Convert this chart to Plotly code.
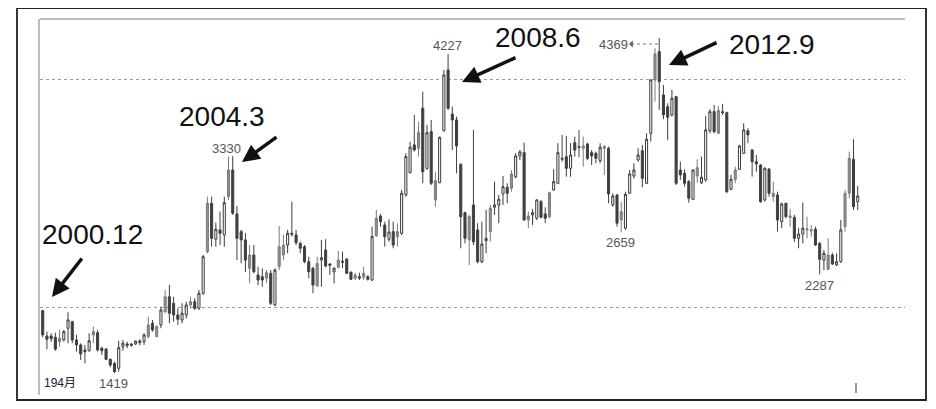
import plotly.graph_objects as go

# ---- data: 194 monthly candles, starting 2000.12 ----
opens = [1968,1745,1745,1733,1695,1710,1813,1871,1710,1666,
         1622,1615,1754,1774,1637,1630,1539,1504,1460,1650,
         1660,1662,1674,1686,1695,1739,1857,1739,1842,1959,
         2091,2033,1930,1886,1930,2018,2047,1989,2121,2487,
         2914,2597,2679,2635,2972,3207,2820,2664,2591,2341,
         2458,2282,2267,2253,2297,2018,2355,2458,2546,2649,
         2635,2561,2531,2399,2341,2185,2414,2502,2379,2311,
         2350,2403,2423,2308,2253,2253,2262,2267,2238,2626,
         2802,2723,2597,2664,2620,2649,2987,3183,3428,3398,
         3751,3222,3545,2943,3095,3553,4088,3700,3648,3257,
         2831,2591,2899,2679,2399,2584,2664,2879,2899,2996,
         3055,3046,3148,3331,3360,2767,2811,2782,2928,2820,
         2796,3031,3090,3310,3324,3222,3448,3413,3398,3436,
         3360,3354,3289,3398,3398,2899,2987,2767,2694,3002,
         3154,3295,3377,3090,3530,4000,4250,3868,3765,3692,
         3853,3207,3178,3104,2949,3154,3095,3119,3553,3721,
         3530,3721,3712,3037,3125,3213,3354,3553,3383,3280,
         3251,2943,3216,2972,2987,2752,2914,2790,2790,2605,
         2643,2679,2670,2685,2561,2414,2332,2458,2370,2399,
         2708,3002,3301,2928]
highs = [1975,1783,1769,1774,1798,1798,1954,1880,1754,1681,
         1666,1769,1827,1798,1651,1637,1548,1518,1703,1710,
         1695,1681,1705,1716,1769,1915,1886,1842,2003,2150,
         2194,2091,1989,2033,2047,2091,2077,2150,2458,2972,
         2972,2743,2840,2972,3325,3330,2890,2679,2652,2546,
         2546,2355,2341,2326,2326,2341,2714,2635,2679,2928,
         2679,2575,2546,2443,2355,2443,2591,2597,2385,2350,
         2496,2487,2429,2311,2302,2302,2355,2282,2708,2855,
         2820,2752,2773,2752,2738,3031,3354,3457,3692,3633,
         3897,3604,3648,3192,3501,4088,4227,3765,3677,3265,
         2840,2811,3560,2738,2752,2855,2899,3104,2987,3154,
         3090,3207,3354,3383,3448,2840,2861,2949,2943,2878,
         3016,3213,3443,3516,3507,3443,3501,3560,3501,3448,
         3383,3369,3443,3428,3413,3002,2996,2928,3016,3207,
         3266,3398,3428,3530,4006,4279,4369,3956,3795,3912,
         3860,3280,3213,3119,3213,3301,3325,3683,3742,3780,
         3771,3789,3721,3163,3236,3428,3618,3575,3389,3339,
         3260,3231,3222,3104,3016,2919,2919,2861,2811,2694,
         2919,2796,2723,2708,2573,2502,2605,2478,2473,2767,
         3031,3369,3478,3066]
lows = [1733,1628,1692,1615,1650,1695,1681,1681,1607,1533,
        1504,1607,1681,1607,1577,1533,1469,1419,1430,1615,
        1637,1651,1666,1662,1666,1725,1783,1733,1813,1945,
        1857,1871,1842,1857,1900,1989,1974,1974,2106,2473,
        2531,2531,2546,2531,2943,2811,2414,2385,2308,2209,
        2297,2194,2179,2209,2018,2010,2326,2414,2473,2620,
        2546,2473,2385,2253,2121,2179,2179,2350,2282,2209,
        2341,2341,2291,2238,2238,2238,2238,2232,2230,2620,
        2708,2531,2575,2517,2531,2635,2972,3178,3369,3325,
        3090,3207,3075,2884,3090,3545,3736,3383,3178,2517,
        2561,2370,2546,2385,2385,2473,2575,2811,2738,2899,
        2914,3016,3134,3295,2760,2694,2723,2767,2782,2738,
        2782,3025,3084,3280,3148,3148,3325,3319,3236,3295,
        3251,3266,3266,3163,2914,2884,2708,2659,2679,2996,
        3134,3280,3055,3084,3457,3809,3736,3654,3472,3677,
        3075,3119,3060,2919,2943,3095,3084,3104,3530,3530,
        3524,3692,3002,3031,3090,3207,3348,3443,3148,3192,
        2919,2928,2972,2928,2664,2694,2782,2708,2575,2517,
        2561,2605,2620,2538,2287,2326,2326,2370,2361,2390,
        2664,2958,2855,2855]
closes = [1754,1716,1721,1628,1725,1783,1886,1710,1666,1586,
          1607,1703,1783,1622,1615,1539,1489,1430,1642,1681,
          1674,1674,1700,1700,1754,1842,1798,1827,1974,2091,
          1945,1930,1892,1945,2018,2047,1989,2121,2443,2914,
          2605,2685,2649,2919,3207,2826,2605,2591,2414,2458,
          2311,2238,2238,2302,2033,2326,2531,2546,2649,2641,
          2567,2517,2399,2311,2194,2385,2434,2361,2368,2341,
          2414,2394,2297,2244,2282,2267,2297,2244,2620,2782,
          2752,2620,2661,2546,2664,3002,3325,3407,3383,3536,
          3192,3536,3090,3113,3495,4044,3751,3648,3419,2796,
          2605,2796,2575,2399,2555,2605,2870,2899,2949,3060,
          3002,3172,3331,3366,2767,2802,2831,2943,2790,2782,
          3007,3104,3360,3302,3222,3339,3383,3407,3419,3310,
          3331,3310,3407,3413,2996,2978,2738,2840,2993,3172,
          3207,3339,3134,3478,4000,4229,3985,3692,3671,3839,
          3090,3163,3090,2958,3207,3227,3143,3560,3721,3545,
          3730,3712,3016,3125,3207,3419,3560,3516,3280,3260,
          2928,3222,3002,3002,2767,2908,2796,2802,2605,2643,
          2694,2688,2679,2546,2420,2473,2458,2379,2399,2679,
          3002,3310,2884,2978]
# body shade of each candle: W = hollow, D = dark, G = grey
shade = list("DDDDGWWDDD" "DWGDDDDDWW" "WWWWWGDGWG" "DDDWWGDWWG" "DWDWGDDDDG"
             "DDDGDWGGWD" "DDDDDGWDDW" "GDDDGWGDWG" "DDWDGWWWDG" "DWDGWWDDDD"
             "DGDDWWGWWW" "DGWWDGWWDD" "GWWDDWDDGD" "DDWGDWDGWW" "WWDWWGDDDW"
             "DDDDWGWWWD" "GDDWGWWDDD" "DWDGDWDGDW" "WGGDDWGDWW" "GGDW")
months = list(range(len(opens)))

peak_labels = [("4227", 447), ("3330", 226), ("1419", 113), ("2659", 620), ("2287", 819)]
period_labels = ["2000.12", "2004.3", "2008.6", "2012.9"]
count_label = "194月"

# ---- geometry: page pixels (the page body has an 8px margin) ----
OFF = 8
FW, FH = 920, 393
L, R, T, B = 40, 905, 19, 395          # plot area in page pixels
def px(x):
    return (x - L) / (R - L)
def py(y):
    return (B - y) / (B - T)

styles = {
    "W": dict(fill="#ffffff", line="#3a3a3a"),
    "D": dict(fill="#3f3f3f", line="#3f3f3f"),
    "G": dict(fill="#8e8e8e", line="#7a7a7a"),
}

fig = go.Figure()
for key, st in styles.items():
    idx = [i for i, s in enumerate(shade) if s == key]
    fig.add_trace(go.Candlestick(
        x=[months[i] for i in idx],
        open=[opens[i] for i in idx],
        high=[highs[i] for i in idx],
        low=[lows[i] for i in idx],
        close=[closes[i] for i in idx],
        increasing=dict(fillcolor=st["fill"], line=dict(color=st["line"], width=1)),
        decreasing=dict(fillcolor=st["fill"], line=dict(color=st["line"], width=1)),
        whiskerwidth=0,
        showlegend=False,
        hoverinfo="skip",
    ))

annotations = []
big_font = dict(family="Liberation Sans, Arial, sans-serif", size=28, color="#111")
big_pos = [(40, 234), (177, 117), (493, 38), (727, 44)]
for text, (x, y) in zip(period_labels, big_pos):
    annotations.append(dict(text=text, x=px(x), y=py(y), xref="paper", yref="paper",
                            xanchor="left", yanchor="middle", showarrow=False, font=big_font))

arrows = [((52, 297), (83, 257)), ((242, 162), (278, 136)),
          ((462, 82), (517, 57)), ((669, 65), (718, 42))]
for (hx, hy), (tx, ty) in arrows:
    annotations.append(dict(text="", x=px(hx), y=py(hy), xref="paper", yref="paper",
                            ax=tx - hx, ay=ty - hy, showarrow=True, arrowhead=2,
                            arrowsize=1, arrowwidth=3.5, arrowcolor="#111"))

small_font = dict(family="Liberation Sans, Arial, sans-serif", size=13, color="#555")
small_y = {"4227": 45, "3330": 148, "1419": 383, "2659": 242, "2287": 285}
for text, x in peak_labels:
    annotations.append(dict(text=text, x=px(x), y=py(small_y[text]), xref="paper", yref="paper",
                            xanchor="center", yanchor="middle", showarrow=False, font=small_font))
annotations.append(dict(text="4369", x=px(613), y=py(44), xref="paper", yref="paper",
                        xanchor="center", yanchor="middle", showarrow=False, font=small_font))
annotations.append(dict(text="", x=px(629), y=py(44), xref="paper", yref="paper",
                        ax=6, ay=0, showarrow=True, arrowhead=1, arrowsize=1.6,
                        arrowwidth=0.8, arrowcolor="#666"))
annotations.append(dict(text=count_label, x=px(42), y=py(383), xref="paper", yref="paper",
                        xanchor="left", yanchor="middle", showarrow=False,
                        font=dict(family="Liberation Sans, Noto Sans CJK JP, sans-serif", size=12, color="#222")))

shapes = [
    dict(type="rect", xref="paper", yref="paper", x0=px(17), x1=px(926), y0=py(400), y1=py(8),
         line=dict(color="#222", width=1.8)),
    dict(type="line", xref="paper", yref="paper", x0=px(40), x1=px(905), y0=py(19), y1=py(19),
         line=dict(color="#bbbbbb", width=2)),
    dict(type="line", xref="paper", yref="paper", x0=px(631), x1=px(658), y0=py(44), y1=py(44),
         line=dict(color="#777", width=1, dash="dot")),
    dict(type="line", xref="paper", yref="paper", x0=px(856), x1=px(856), y0=py(393), y1=py(383),
         line=dict(color="#333", width=1)),
]

fig.update_layout(
    width=FW, height=FH,
    margin=dict(l=L - OFF, r=FW - (R - OFF), t=T - OFF, b=FH - (B - OFF), pad=0),
    paper_bgcolor="white", plot_bgcolor="white",
    xaxis=dict(range=[-0.64, 204.2], showgrid=False, showticklabels=False, ticks="",
               zeroline=False, rangeslider=dict(visible=False), fixedrange=True),
    yaxis=dict(range=[1225, 4537], tickvals=[2000, 4000], showticklabels=False, ticks="",
               showgrid=True, gridcolor="#9a9a9a", griddash="dot", gridwidth=1,
               zeroline=False, showline=True, linecolor="#bbbbbb", linewidth=2, fixedrange=True),
    annotations=annotations,
    shapes=shapes,
)

fig.write_html("out.html")
